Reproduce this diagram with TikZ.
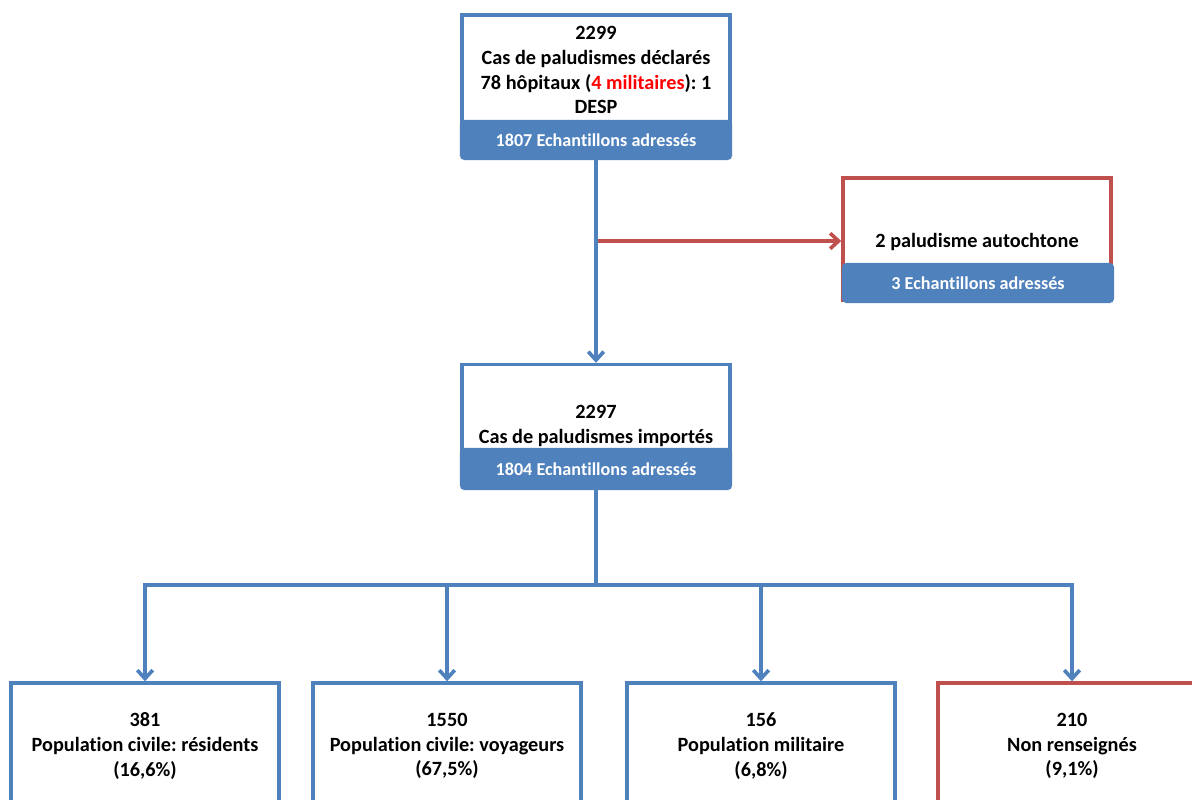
\documentclass[tikz,border=0pt]{standalone}
\usepackage{fontspec}
\setmainfont{Carlito}[RawFeature={-liga}]
\usetikzlibrary{arrows.meta}
\definecolor{officeblue}{HTML}{4F81BD}
\definecolor{officered}{HTML}{C0504D}
\frenchspacing

\begin{document}
\begin{tikzpicture}[x=0.025cm, y=-0.025cm]

      \tikzset{boxed/.style={draw=officeblue, line width=2.4pt, fill=white, minimum width=6.7cm, inner sep=0pt},
               redboxed/.style={boxed, draw=officered},
               bar/.style={fill=officeblue, rounded corners=3pt, minimum width=6.8cm, minimum height=1cm, inner sep=0pt,
                           text=white, font=\fontsize{12.9}{15}\selectfont\bfseries},
               boxtext/.style={align=center, inner sep=0pt, font=\fontsize{14.4}{17.7}\selectfont\bfseries},
               link/.style={draw=officeblue, line width=2.6pt, -{Straight Barb[length=6pt, width=11pt]}},
               redlink/.style={link, draw=officered},
               plain/.style={draw=officeblue, line width=2.6pt}}

      \useasboundingbox (0,0) rectangle (1192,800);
      \clip (0,0) rectangle (1192,800);

%% Boxes
      	\node[boxed, minimum height=3.25cm] (topbox) at (596,80) {};
      	\node[boxtext] (toptext) at (596,70) {2299\\Cas de paludismes déclarés\\78 hôpitaux ({\color{red}4 militaires}): 1\\DESP};
      	\node[bar] (topbar) at (596,140) {1807 Echantillons adressés};

      	\node[redboxed, minimum height=3.05cm] (redbox) at (977,239) {};
      	\node[boxtext] (redtext) at (977,242) {2 paludisme autochtone};
      	\node[bar] (redbar) at (978,283) {3 Echantillons adressés};

      	\node[boxed, minimum height=2.875cm] (midbox) at (596,422) {};
      	\node[boxtext] (midtext) at (596,426) {2297\\Cas de paludismes importés};
      	\node[bar, minimum height=1.05cm] (midbar) at (596,469) {1804 Echantillons adressés};

      	\node[boxed, minimum height=3.7cm] (box1) at (145,757) {};
      	\node[boxtext] (text1) at (145,746) {381\\Population civile: résidents\\(16,6\%)};
      	\node[boxed, minimum height=3.7cm] (box2) at (447,757) {};
      	\node[boxtext] (text2) at (447,746) {1550\\Population civile: voyageurs\\(67,5\%)};
      	\node[boxed, minimum height=3.7cm] (box3) at (761,757) {};
      	\node[boxtext] (text3) at (761,746) {156\\Population militaire\\(6,8\%)};
      	\node[redboxed, minimum height=3.7cm] (box4) at (1072,757) {};
      	\node[boxtext] (text4) at (1072,746) {210\\Non renseignés\\(9,1\%)};

%Arrows
      	\coordinate (split) at (596,241);
      	\coordinate (fork) at (596,585);
		\path[redlink] (split) -- (split -| redbox.west);
		\path[link] (topbar) -- (midbox);
		\path[plain] (midbar) -- (fork);
		\path[link] (fork) -| (box1);
		\path[link] (fork) -| (box2);
		\path[link] (fork) -| (box3);
		\path[link] (fork) -| (box4);

	\end{tikzpicture}
\end{document}
